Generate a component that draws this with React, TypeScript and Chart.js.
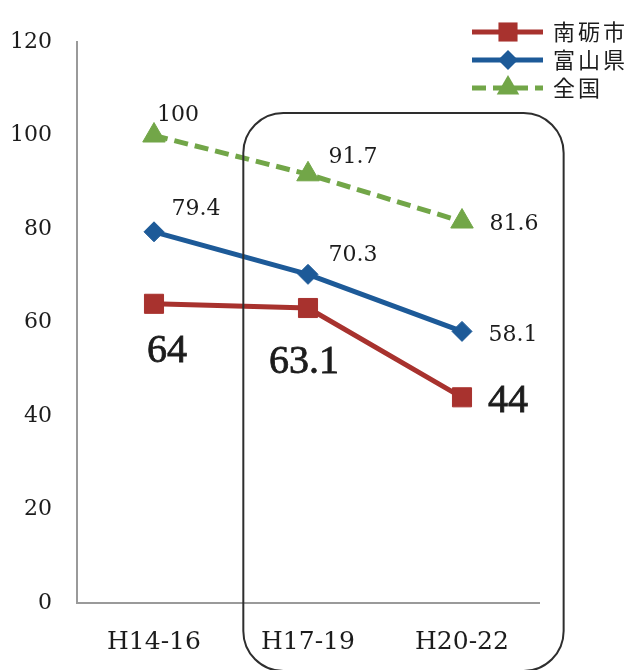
import React, { useEffect, useRef } from "react";
import { Chart, registerables } from "chart.js";

Chart.register(...registerables);

// Periods on the horizontal axis
const periods = ["H14-16", "H17-19", "H20-22"];
// Series values
const nantoValues = [64, 63.1, 44];
const toyamaValues = [79.4, 70.3, 58.1];
const nationalValues = [100, 91.7, 81.6];
const seriesNames = ["南砺市", "富山県", "全国"];
// Value axis
const yMin = 0;
const yMax = 120;
const yStep = 20;

// Label placement (pixel offsets from each point) and fonts per series
const labelOffsets: number[][][] = [
  [[13, 48], [-4, 54], [46, 4]],
  [[42, -23], [45, -19], [51, 4]],
  [[24, -20], [45, -17], [52, 3]],
];
const labelFonts = [
  "40px 'Liberation Serif'",
  "22px 'DejaVu Serif'",
  "22px 'DejaVu Serif'",
];

const TEXT = "#1c1c1c";
const RED = "#a8322e";
const BLUE = "#1d5a98";
const GREEN = "#72a648";

function drawMarker(ctx: CanvasRenderingContext2D, style: string, x: number, y: number, r: number, color: string) {
  ctx.save();
  ctx.fillStyle = color;
  ctx.setLineDash([]);
  ctx.beginPath();
  if (style === "rect") {
    const s = Math.SQRT1_2 * r;
    ctx.rect(x - s, y - s, 2 * s, 2 * s);
  } else if (style === "rectRot") {
    ctx.moveTo(x, y - r);
    ctx.lineTo(x + r, y);
    ctx.lineTo(x, y + r);
    ctx.lineTo(x - r, y);
    ctx.closePath();
  } else {
    ctx.moveTo(x, y - r);
    ctx.lineTo(x + r * 0.866, y + r / 2);
    ctx.lineTo(x - r * 0.866, y + r / 2);
    ctx.closePath();
  }
  ctx.fill();
  ctx.restore();
}

const valueLabels = {
  id: "valueLabels",
  afterDatasetsDraw(chart: any) {
    const ctx = chart.ctx as CanvasRenderingContext2D;
    chart.data.datasets.forEach((ds: any, i: number) => {
      const meta = chart.getDatasetMeta(i);
      ctx.save();
      ctx.font = labelFonts[i];
      ctx.fillStyle = TEXT;
      ctx.textAlign = "center";
      ctx.textBaseline = "middle";
      if (i === 0) {
        // slightly heavier strokes for the city's own figures
        ctx.strokeStyle = TEXT;
        ctx.lineWidth = 0.8;
      }
      meta.data.forEach((pt: any, j: number) => {
        const [dx, dy] = labelOffsets[i][j];
        const txt = String(ds.data[j]);
        ctx.fillText(txt, pt.x + dx, pt.y + dy);
        if (i === 0) ctx.strokeText(txt, pt.x + dx, pt.y + dy);
      });
      ctx.restore();
    });
  },
};

// Rounded frame around the two most recent periods
const periodFrame = {
  id: "periodFrame",
  afterDatasetsDraw(chart: any) {
    const ctx = chart.ctx as CanvasRenderingContext2D;
    const xs = chart.scales.x;
    const ys = chart.scales.y;
    const step = xs.getPixelForValue(1) - xs.getPixelForValue(0);
    const left = xs.getPixelForValue(1) - 0.42 * step;
    const right = xs.getPixelForValue(2) + 0.66 * step;
    const top = ys.getPixelForValue(104.8);
    const bottom = chart.height + 1;
    ctx.save();
    ctx.strokeStyle = "#2e2e2e";
    ctx.lineWidth = 2;
    ctx.beginPath();
    ctx.roundRect(left, top, right - left, bottom - top, 40);
    ctx.stroke();
    ctx.restore();
  },
};

const lineLegend = {
  id: "lineLegend",
  afterDraw(chart: any) {
    const ctx = chart.ctx as CanvasRenderingContext2D;
    const x0 = chart.width - 164;
    const x1 = x0 + 71;
    const mx = x0 + 36;
    chart.data.datasets.forEach((ds: any, i: number) => {
      const y = 32 + i * 28;
      ctx.save();
      ctx.strokeStyle = ds.borderColor;
      ctx.lineWidth = ds.borderWidth;
      ctx.setLineDash(ds.borderDash || []);
      ctx.beginPath();
      ctx.moveTo(x0, y);
      ctx.lineTo(x1, y);
      ctx.stroke();
      ctx.restore();
      drawMarker(ctx, ds.pointStyle, mx, y, ds.pointRadius, ds.pointBackgroundColor);
      ctx.save();
      ctx.font = "22px 'Noto Sans CJK JP'";
      ctx.fillStyle = TEXT;
      ctx.textAlign = "left";
      ctx.textBaseline = "middle";
      Array.from(ds.label as string).forEach((ch, k) => {
        ctx.fillText(ch, x1 + 10 + k * 25, y);
      });
      ctx.restore();
    });
  },
};

export default function App() {
  const canvasRef = useRef<HTMLCanvasElement | null>(null);

  useEffect(() => {
    if (!canvasRef.current) return;
    const chart = new Chart(canvasRef.current, {
      type: "line",
      data: {
        labels: periods,
        datasets: [
          {
            label: seriesNames[0],
            data: nantoValues,
            borderColor: RED,
            backgroundColor: RED,
            pointBackgroundColor: RED,
            pointBorderColor: RED,
            borderWidth: 5,
            pointStyle: "rect",
            pointRadius: 13.5,
            pointBorderWidth: 1,
            tension: 0,
          },
          {
            label: seriesNames[1],
            data: toyamaValues,
            borderColor: BLUE,
            backgroundColor: BLUE,
            pointBackgroundColor: BLUE,
            pointBorderColor: BLUE,
            borderWidth: 5,
            pointStyle: "rectRot",
            pointRadius: 10,
            pointBorderWidth: 1,
            tension: 0,
          },
          {
            label: seriesNames[2],
            data: nationalValues,
            borderColor: GREEN,
            backgroundColor: GREEN,
            pointBackgroundColor: GREEN,
            pointBorderColor: GREEN,
            borderWidth: 5,
            borderDash: [14, 7],
            borderCapStyle: "butt",
            pointStyle: "triangle",
            pointRadius: 13,
            pointBorderWidth: 1,
            tension: 0,
          },
        ] as any,
      },
      options: {
        animation: false,
        responsive: false,
        devicePixelRatio: 1,
        layout: { padding: { top: 42, right: 97, left: 0, bottom: 0 } },
        plugins: {
          legend: { display: false },
          tooltip: { enabled: false },
        },
        scales: {
          x: {
            offset: true,
            grid: { display: false, drawTicks: false },
            border: { display: true, color: "#9a9a9a", width: 2 },
            ticks: {
              color: TEXT,
              font: { family: "'DejaVu Serif'", size: 25 },
              padding: 24,
              maxRotation: 0,
            },
            afterFit: (s: any) => {
              s.height = 67;
            },
          },
          y: {
            min: yMin,
            max: yMax,
            grid: { display: false, drawTicks: false },
            border: { display: true, color: "#9a9a9a", width: 2 },
            ticks: {
              stepSize: yStep,
              color: TEXT,
              font: { family: "'DejaVu Serif'", size: 22 },
              padding: 25,
            },
            afterFit: (s: any) => {
              s.width = 77;
            },
          },
        },
      },
      plugins: [valueLabels, periodFrame, lineLegend],
    });
    return () => chart.destroy();
  }, []);

  return (
    <div style={{ position: "fixed", left: 0, top: 0, width: 636, height: 670, background: "#fff" }}>
      <canvas ref={canvasRef} width={636} height={670} />
    </div>
  );
}
